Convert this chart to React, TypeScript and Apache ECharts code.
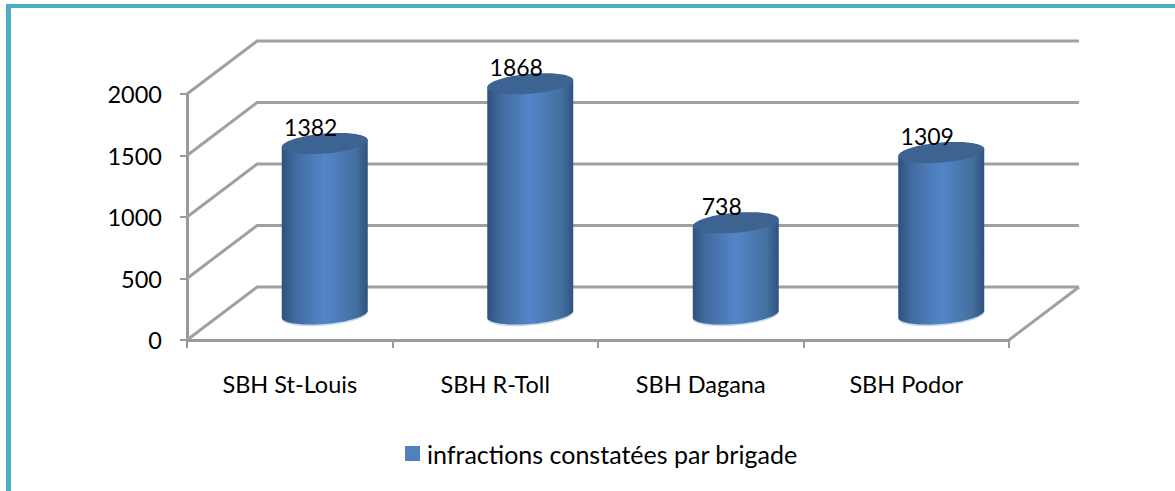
import React, { useEffect, useRef } from "react";
import * as echarts from "echarts";

const categories = ["SBH St-Louis", "SBH R-Toll", "SBH Dagana", "SBH Podor"];
const infractions = [1382, 1868, 738, 1309];
const yTicks = [0, 500, 1000, 1500, 2000];
const seriesName = "infractions constatées par brigade";

const FONT = "Lato";
const GRID_COLOR = "#a0a0a0";
const AXIS_COLOR = "#999999";
const DEPTH_X = 70;
const DEPTH_Y = 53;

function renderWall(params: any, api: any) {
  const cs = params.coordSys;
  const v = api.value(0);
  const y = api.coord([0, v])[1];
  const left = cs.x;
  const right = cs.x + cs.width;
  const style = { stroke: GRID_COLOR, lineWidth: 3, fill: "none" };
  const children: any[] = [
    {
      type: "polyline",
      shape: {
        points: [
          [left, y],
          [left + DEPTH_X, y - DEPTH_Y],
          [right + DEPTH_X, y - DEPTH_Y],
        ],
      },
      style,
    },
  ];
  if (v === 0) {
    children.push({
      type: "line",
      shape: { x1: right, y1: y, x2: right + DEPTH_X, y2: y - DEPTH_Y },
      style,
    });
  }
  return { type: "group", children };
}

function renderCylinder(_params: any, api: any) {
  const idx = api.value(0);
  const val = api.value(1);
  const [cx0, yTop0] = api.coord([idx, val]);
  const yBase = api.coord([idx, 0])[1];
  const cx = cx0 + 35;
  const a = 43;
  const b = 10;
  const shear = 3.5;
  const topY = yTop0 - 26.5;
  const botY = yBase - 26;
  const pt = (cy: number, t: number) => [
    cx + a * Math.cos(t),
    cy + b * Math.sin(t) - shear * Math.cos(t),
  ];
  const full: number[][] = [];
  const lower = (cy: number) => {
    const out: number[][] = [];
    for (let i = 0; i <= 48; i++) out.push(pt(cy, Math.PI - (Math.PI * i) / 48));
    return out;
  };
  for (let i = 0; i < 96; i++) full.push(pt(topY, (Math.PI * 2 * i) / 96));
  const body = [pt(topY, Math.PI), ...lower(botY), pt(topY, 0)];
  const halo = [pt(botY, Math.PI), ...lower(botY + 1.6), pt(botY, 0)];
  const bodyFill = new echarts.graphic.LinearGradient(0, 0, 1, 0, [
    { offset: 0, color: "#2e507c" },
    { offset: 0.14, color: "#41699d" },
    { offset: 0.5, color: "#5386c8" },
    { offset: 0.86, color: "#44709f" },
    { offset: 1, color: "#2f527f" },
  ]);
  return {
    type: "group",
    children: [
      { type: "polygon", shape: { points: halo }, style: { fill: "#c6d8ee" } },
      { type: "polygon", shape: { points: body }, style: { fill: bodyFill } },
      { type: "polygon", shape: { points: full }, style: { fill: "#3c6392" } },
      {
        type: "text",
        x: cx - 14,
        y: yTop0 - 43,
        style: {
          text: String(val),
          font: `23px ${FONT}`,
          fill: "#000000",
          align: "center",
          verticalAlign: "middle",
        },
      },
    ],
  };
}

export default function App() {
  const ref = useRef<HTMLDivElement>(null);
  useEffect(() => {
    document.body.style.margin = "0";
    const chart = echarts.init(ref.current!, undefined, { renderer: "svg" });
    chart.setOption({
      animation: false,
      backgroundColor: "#ffffff",
      graphic: [
        { type: "rect", shape: { x: 6, y: 4, width: 1169, height: 4 }, style: { fill: "#4bacc6" } },
        { type: "rect", shape: { x: 6, y: 4, width: 5, height: 487 }, style: { fill: "#4bacc6" } },
      ],
      grid: { left: 187, right: 166, top: 94, bottom: 151 },
      legend: {
        data: [{ name: seriesName, icon: "rect", itemStyle: { color: "#4f81bd" } }],
        left: 405,
        top: 441,
        padding: 0,
        itemWidth: 15,
        itemHeight: 15,
        selectedMode: false,
        textStyle: { fontFamily: FONT, fontSize: 25, color: "#000000", padding: [0, 0, 6, 2] },
      },
      xAxis: {
        type: "category",
        data: categories,
        axisLine: { lineStyle: { color: AXIS_COLOR, width: 3 } },
        axisTick: { show: true, alignWithLabel: false, length: 8, lineStyle: { color: AXIS_COLOR, width: 2 } },
        axisLabel: { fontFamily: FONT, fontSize: 23.5, color: "#000000", margin: 32 },
      },
      yAxis: {
        type: "value",
        min: 0,
        max: 2000,
        interval: 500,
        splitLine: { show: false },
        axisLine: { show: true, lineStyle: { color: AXIS_COLOR, width: 3 } },
        axisTick: { show: true, length: 7, lineStyle: { color: AXIS_COLOR, width: 2 } },
        axisLabel: {
          fontFamily: FONT,
          fontSize: 23.5,
          color: "#000000",
          margin: 25,
          padding: [3, 0, 0, 0],
          formatter: (v: number) => String(v),
        },
      },
      series: [
        {
          type: "custom",
          name: "walls",
          renderItem: renderWall,
          data: yTicks.map((v) => [v]),
          encode: { y: 0 },
          silent: true,
          z: 1,
        },
        {
          type: "custom",
          name: seriesName,
          renderItem: renderCylinder,
          data: infractions.map((v, i) => [i, v]),
          encode: { x: 0, y: 1 },
          itemStyle: { color: "#4f81bd" },
          z: 2,
        },
      ],
    });
    return () => chart.dispose();
  }, []);
  return <div ref={ref} style={{ width: 1175, height: 491 }} />;
}
